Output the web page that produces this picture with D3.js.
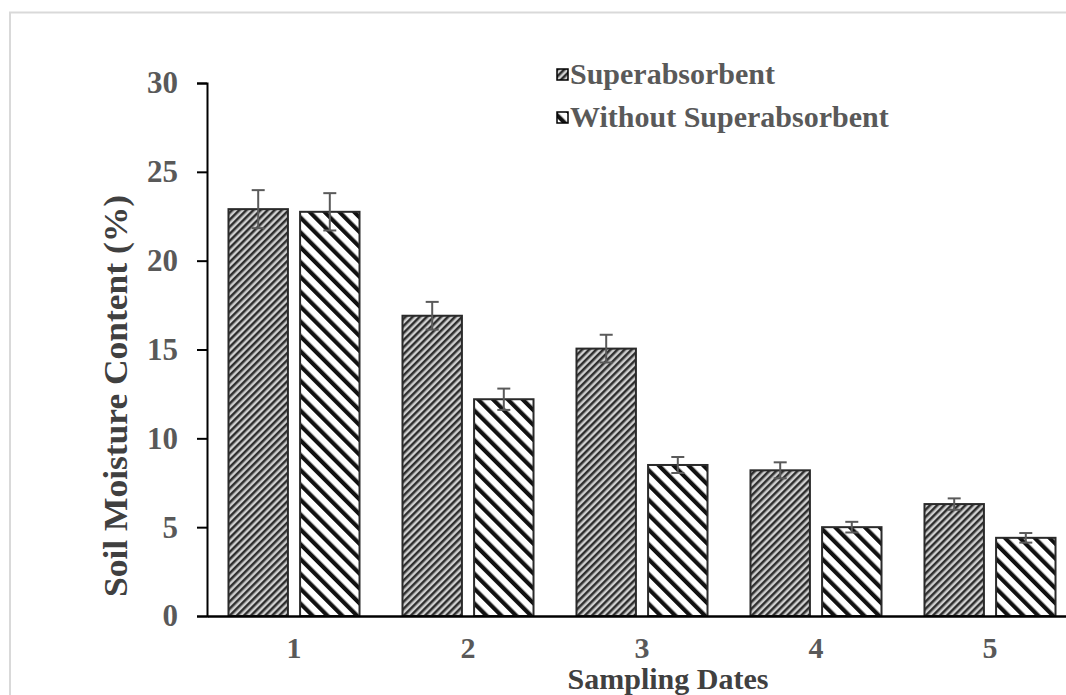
<!doctype html>
<html lang="en">
<head>
<meta charset="utf-8">
<title>Soil Moisture Content</title>
<script src="https://cdn.jsdelivr.net/npm/d3@7"></script>
<style>
  body { margin: 0; background: #fff; }
  svg text { font-family: "Liberation Serif", "Times New Roman", serif; font-weight: bold; }
</style>
</head>
<body>
<div id="chart"></div>
<script>

// data
var dates = ["1", "2", "3", "4", "5"];
var series = ["Superabsorbent", "Without Superabsorbent"];
var superVals = [22.9, 16.9, 15.05, 8.2, 6.3];
var superErr = [1.07, 0.78, 0.78, 0.45, 0.32];
var withoutVals = [22.75, 12.2, 8.5, 5.0, 4.4];
var withoutErr = [1.05, 0.6, 0.45, 0.3, 0.27];
var yTicks = [0, 5, 10, 15, 20, 25, 30];

var width = 1066;
var height = 695;

var svg = d3.select("#chart").append("svg")
    .attr("width", width)
    .attr("height", height);

// hatch patterns
var defs = svg.append("defs");

var p1 = defs.append("pattern")
    .attr("id", "hatchSuper")
    .attr("patternUnits", "userSpaceOnUse")
    .attr("width", 5).attr("height", 5)
    .attr("patternTransform", "rotate(45)");
p1.append("rect").attr("width", 5).attr("height", 5).attr("fill", "#cfcfcf");
p1.append("rect").attr("width", 2.5).attr("height", 5).attr("fill", "#2e2e2e");

var p2 = defs.append("pattern")
    .attr("id", "hatchWithout")
    .attr("patternUnits", "userSpaceOnUse")
    .attr("width", 10.5).attr("height", 10.5)
    .attr("patternTransform", "rotate(-45)");
p2.append("rect").attr("width", 10.5).attr("height", 10.5).attr("fill", "#fff");
p2.append("rect").attr("width", 4.2).attr("height", 10.5).attr("fill", "#111");

var fills = ["url(#hatchSuper)", "url(#hatchWithout)"];

// outer border of the chart area
svg.append("rect")
    .attr("x", 10).attr("y", 12.5)
    .attr("width", 1080).attr("height", 700)
    .attr("fill", "none")
    .attr("stroke", "#d9d9d9")
    .attr("stroke-width", 2);

var x0 = d3.scaleBand().domain(dates).range([207, 1077])
    .paddingInner(0.247).paddingOuter(0.1235);
var x1 = d3.scaleBand().domain(series).range([0, x0.bandwidth()])
    .paddingInner(0.17);
var y = d3.scaleLinear().domain([0, 30]).range([616, 83]);

// build rows
var rows = dates.map(function(d, i) {
    return [
        {date: d, s: series[0], v: superVals[i], e: superErr[i], k: 0},
        {date: d, s: series[1], v: withoutVals[i], e: withoutErr[i], k: 1}
    ];
});

var groups = svg.selectAll("g.grp")
    .data(rows)
    .enter().append("g")
    .attr("class", "grp")
    .attr("transform", function(d) { return "translate(" + x0(d[0].date) + ",0)"; });

groups.selectAll("rect")
    .data(function(d) { return d; })
    .enter().append("rect")
    .attr("x", function(d) { return x1(d.s); })
    .attr("y", function(d) { return y(d.v); })
    .attr("width", x1.bandwidth())
    .attr("height", function(d) { return y(0) - y(d.v); })
    .attr("fill", function(d) { return fills[d.k]; })
    .attr("stroke", "#2a2a2a")
    .attr("stroke-width", 2);

// error bars
var eb = groups.selectAll("g.err")
    .data(function(d) { return d; })
    .enter().append("g")
    .attr("class", "err")
    .attr("stroke", "#5a5a5a")
    .attr("stroke-width", 2);
eb.append("line")
    .attr("x1", function(d) { return x1(d.s) + x1.bandwidth() / 2; })
    .attr("x2", function(d) { return x1(d.s) + x1.bandwidth() / 2; })
    .attr("y1", function(d) { return y(d.v - d.e); })
    .attr("y2", function(d) { return y(d.v + d.e); });
eb.append("line")
    .attr("x1", function(d) { return x1(d.s) + x1.bandwidth() / 2 - 6.5; })
    .attr("x2", function(d) { return x1(d.s) + x1.bandwidth() / 2 + 6.5; })
    .attr("y1", function(d) { return y(d.v + d.e); })
    .attr("y2", function(d) { return y(d.v + d.e); });
eb.append("line")
    .attr("x1", function(d) { return x1(d.s) + x1.bandwidth() / 2 - 6.5; })
    .attr("x2", function(d) { return x1(d.s) + x1.bandwidth() / 2 + 6.5; })
    .attr("y1", function(d) { return y(d.v - d.e); })
    .attr("y2", function(d) { return y(d.v - d.e); });

// y axis
var yAxis = svg.append("g")
    .attr("transform", "translate(207,0)")
    .call(d3.axisLeft(y).tickValues(yTicks).tickSize(10).tickPadding(19));
yAxis.select(".domain").attr("stroke", "#000").attr("stroke-width", 2);
yAxis.selectAll(".tick line").attr("stroke", "#000").attr("stroke-width", 2);
yAxis.selectAll(".tick text")
    .attr("fill", "#595959")
    .style("font-size", "31px")
    .style("font-family", "Liberation Serif")
    .style("font-weight", "bold");

// x axis
var xAxis = svg.append("g")
    .attr("transform", "translate(0,616)")
    .call(d3.axisBottom(x0).tickSize(0).tickPadding(21));
xAxis.select(".domain").attr("stroke", "#000").attr("stroke-width", 2.5);
xAxis.selectAll(".tick text")
    .attr("fill", "#595959")
    .style("font-size", "30px")
    .style("font-family", "Liberation Serif")
    .style("font-weight", "bold");

// axis titles
svg.append("text")
    .attr("transform", "translate(127,396) rotate(-90)")
    .attr("text-anchor", "middle")
    .attr("fill", "#404040")
    .style("font-size", "33px")
    .attr("textLength", 402)
    .attr("lengthAdjust", "spacingAndGlyphs")
    .text("Soil Moisture Content (%)");

svg.append("text")
    .attr("x", 668).attr("y", 689)
    .attr("text-anchor", "middle")
    .attr("fill", "#404040")
    .style("font-size", "30px")
    .text("Sampling Dates");

// legend
var legend = svg.selectAll("g.leg")
    .data(series)
    .enter().append("g")
    .attr("class", "leg")
    .attr("transform", function(d, i) { return "translate(557," + (75 + i * 43) + ")"; });
legend.append("rect")
    .attr("x", 0).attr("y", -6)
    .attr("width", 11).attr("height", 11)
    .attr("fill", function(d, i) { return fills[i]; })
    .attr("stroke", "#000")
    .attr("stroke-width", 1.5);
legend.append("text")
    .attr("x", 13).attr("y", 9)
    .attr("fill", "#595959")
    .style("font-size", "30px")
    .text(function(d) { return d; });

</script>
</body>
</html>
